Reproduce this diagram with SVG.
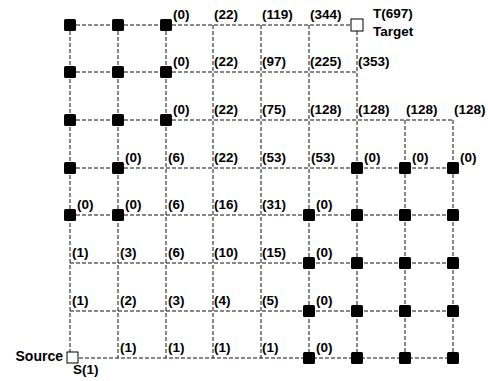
<svg xmlns="http://www.w3.org/2000/svg" width="488" height="381" viewBox="0 0 488 381">
<style>
.e{stroke:#111;stroke-width:1;stroke-dasharray:4 2;fill:none}
.b{fill:#000}
.w{fill:#fff;stroke:#000;stroke-width:1}
text{font-family:"Liberation Sans",Arial,sans-serif;font-weight:bold;font-size:13.5px;fill:#000}
</style>
<rect width="488" height="381" fill="#fff"/>
<g id="connectors">
<line class="e" x1="70" y1="25" x2="351" y2="25"/>
<line class="e" x1="70" y1="72" x2="357" y2="72"/>
<line class="e" x1="70" y1="120" x2="453" y2="120"/>
<line class="e" x1="70" y1="168" x2="453" y2="168"/>
<line class="e" x1="70" y1="215" x2="453" y2="215"/>
<line class="e" x1="70" y1="263" x2="453" y2="263"/>
<line class="e" x1="70" y1="311" x2="453" y2="311"/>
<line class="e" x1="79" y1="358" x2="453" y2="358"/>
<line class="e" x1="70" y1="25" x2="70" y2="352"/>
<line class="e" x1="118" y1="25" x2="118" y2="358"/>
<line class="e" x1="166" y1="25" x2="166" y2="358"/>
<line class="e" x1="213" y1="25" x2="213" y2="358"/>
<line class="e" x1="261" y1="25" x2="261" y2="358"/>
<line class="e" x1="309" y1="25" x2="309" y2="358"/>
<line class="e" x1="357" y1="31" x2="357" y2="358"/>
<line class="e" x1="405" y1="120" x2="405" y2="358"/>
<line class="e" x1="453" y1="120" x2="453" y2="358"/>
</g>
<!-- row 0 -->
<g id="n0_0"><rect class="b" x="64" y="19" width="12" height="12" rx="1.5"/></g>
<g id="n0_1"><rect class="b" x="112" y="19" width="12" height="12" rx="1.5"/></g>
<g id="n0_2"><rect class="b" x="160" y="19" width="12" height="12" rx="1.5"/><text x="173" y="19">(0)</text></g>
<g id="n0_3"><text x="214" y="19">(22)</text></g>
<g id="n0_4"><text x="262" y="19">(119)</text></g>
<g id="n0_5"><text x="310" y="19">(344)</text></g>
<g id="target"><rect class="w" x="351" y="19" width="12" height="12"/><text x="373" y="18">T(697)</text><text x="373" y="36">Target</text></g>
<!-- row 1 -->
<g id="n1_0"><rect class="b" x="64" y="66" width="12" height="12" rx="1.5"/></g>
<g id="n1_1"><rect class="b" x="112" y="66" width="12" height="12" rx="1.5"/></g>
<g id="n1_2"><rect class="b" x="160" y="66" width="12" height="12" rx="1.5"/><text x="173" y="66">(0)</text></g>
<g id="n1_3"><text x="214" y="66">(22)</text></g>
<g id="n1_4"><text x="262" y="66">(97)</text></g>
<g id="n1_5"><text x="310" y="66">(225)</text></g>
<g id="n1_6"><text x="358" y="66">(353)</text></g>
<!-- row 2 -->
<g id="n2_0"><rect class="b" x="64" y="114" width="12" height="12" rx="1.5"/></g>
<g id="n2_1"><rect class="b" x="112" y="114" width="12" height="12" rx="1.5"/></g>
<g id="n2_2"><rect class="b" x="160" y="114" width="12" height="12" rx="1.5"/><text x="173" y="114">(0)</text></g>
<g id="n2_3"><text x="214" y="114">(22)</text></g>
<g id="n2_4"><text x="262" y="114">(75)</text></g>
<g id="n2_5"><text x="310" y="114">(128)</text></g>
<g id="n2_6"><text x="358" y="114">(128)</text></g>
<g id="n2_7"><text x="406" y="114">(128)</text></g>
<g id="n2_8"><text x="454" y="114">(128)</text></g>
<!-- row 3 -->
<g id="n3_0"><rect class="b" x="64" y="162" width="12" height="12" rx="1.5"/></g>
<g id="n3_1"><rect class="b" x="112" y="162" width="12" height="12" rx="1.5"/><text x="125" y="162">(0)</text></g>
<g id="n3_2"><text x="168" y="162">(6)</text></g>
<g id="n3_3"><text x="214" y="162">(22)</text></g>
<g id="n3_4"><text x="262" y="162">(53)</text></g>
<g id="n3_5"><text x="311" y="162">(53)</text></g>
<g id="n3_6"><rect class="b" x="351" y="162" width="12" height="12" rx="1.5"/><text x="364" y="162">(0)</text></g>
<g id="n3_7"><rect class="b" x="399" y="162" width="12" height="12" rx="1.5"/><text x="412" y="162">(0)</text></g>
<g id="n3_8"><rect class="b" x="447" y="162" width="12" height="12" rx="1.5"/><text x="460" y="162">(0)</text></g>
<!-- row 4 -->
<g id="n4_0"><rect class="b" x="64" y="209" width="12" height="12" rx="1.5"/><text x="77" y="209">(0)</text></g>
<g id="n4_1"><rect class="b" x="112" y="209" width="12" height="12" rx="1.5"/><text x="125" y="209">(0)</text></g>
<g id="n4_2"><text x="168" y="209">(6)</text></g>
<g id="n4_3"><text x="214" y="209">(16)</text></g>
<g id="n4_4"><text x="262" y="209">(31)</text></g>
<g id="n4_5"><rect class="b" x="303" y="209" width="12" height="12" rx="1.5"/><text x="316" y="209">(0)</text></g>
<g id="n4_6"><rect class="b" x="351" y="209" width="12" height="12" rx="1.5"/></g>
<g id="n4_7"><rect class="b" x="399" y="209" width="12" height="12" rx="1.5"/></g>
<g id="n4_8"><rect class="b" x="447" y="209" width="12" height="12" rx="1.5"/></g>
<!-- row 5 -->
<g id="n5_0"><text x="72" y="257">(1)</text></g>
<g id="n5_1"><text x="120" y="257">(3)</text></g>
<g id="n5_2"><text x="168" y="257">(6)</text></g>
<g id="n5_3"><text x="214" y="257">(10)</text></g>
<g id="n5_4"><text x="262" y="257">(15)</text></g>
<g id="n5_5"><rect class="b" x="303" y="257" width="12" height="12" rx="1.5"/><text x="316" y="257">(0)</text></g>
<g id="n5_6"><rect class="b" x="351" y="257" width="12" height="12" rx="1.5"/></g>
<g id="n5_7"><rect class="b" x="399" y="257" width="12" height="12" rx="1.5"/></g>
<g id="n5_8"><rect class="b" x="447" y="257" width="12" height="12" rx="1.5"/></g>
<!-- row 6 -->
<g id="n6_0"><text x="72" y="305">(1)</text></g>
<g id="n6_1"><text x="120" y="305">(2)</text></g>
<g id="n6_2"><text x="168" y="305">(3)</text></g>
<g id="n6_3"><text x="214" y="305">(4)</text></g>
<g id="n6_4"><text x="262" y="305">(5)</text></g>
<g id="n6_5"><rect class="b" x="303" y="305" width="12" height="12" rx="1.5"/><text x="316" y="305">(0)</text></g>
<g id="n6_6"><rect class="b" x="351" y="305" width="12" height="12" rx="1.5"/></g>
<g id="n6_7"><rect class="b" x="399" y="305" width="12" height="12" rx="1.5"/></g>
<g id="n6_8"><rect class="b" x="447" y="305" width="12" height="12" rx="1.5"/></g>
<!-- row 7 -->
<g id="source"><rect class="w" x="67" y="352" width="11" height="11"/><text x="63" y="361" text-anchor="end" style="font-size:14px">Source</text><text x="73" y="374">S(1)</text></g>
<g id="n7_1"><text x="120" y="352">(1)</text></g>
<g id="n7_2"><text x="168" y="352">(1)</text></g>
<g id="n7_3"><text x="214" y="352">(1)</text></g>
<g id="n7_4"><text x="262" y="352">(1)</text></g>
<g id="n7_5"><rect class="b" x="303" y="352" width="12" height="12" rx="1.5"/><text x="316" y="352">(0)</text></g>
<g id="n7_6"><rect class="b" x="351" y="352" width="12" height="12" rx="1.5"/></g>
<g id="n7_7"><rect class="b" x="399" y="352" width="12" height="12" rx="1.5"/></g>
<g id="n7_8"><rect class="b" x="447" y="352" width="12" height="12" rx="1.5"/></g>
</svg>
